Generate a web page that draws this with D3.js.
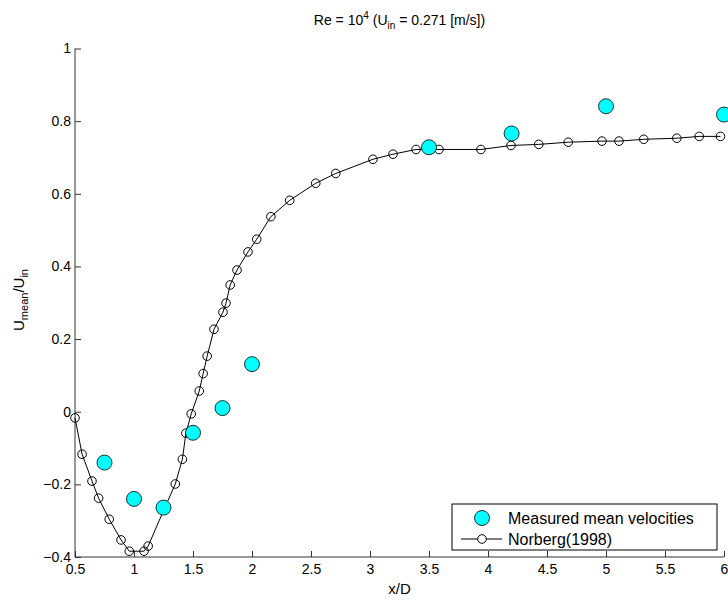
<!DOCTYPE html>
<html>
<head>
<meta charset="utf-8">
<script src="https://cdn.jsdelivr.net/npm/d3@7"></script>
<style>
  body { margin: 0; background: #fff; }
  text { font-family: "Liberation Sans", Arial, sans-serif; fill: #000; }
</style>
</head>
<body>
<svg id="chart" width="728" height="601"></svg>
<script>
// measured mean velocities
var measX = [0.75, 1.0, 1.25, 1.5, 1.75, 2.0, 3.5, 4.2, 5.0, 6.0];
var measY = [-0.14, -0.24, -0.264, -0.058, 0.01, 0.131, 0.728, 0.766, 0.841, 0.818];

// Norberg (1998) reference curve
var norbX = [0.50, 0.56, 0.644, 0.70, 0.79, 0.89, 0.96, 1.085, 1.12, 1.26, 1.35, 1.41, 1.44, 1.485,
             1.553, 1.586, 1.62, 1.678, 1.754, 1.78, 1.815, 1.873, 1.966, 2.04, 2.16, 2.32, 2.54,
             2.71, 3.025, 3.195, 3.39, 3.585, 3.94, 4.195, 4.43, 4.68, 4.966, 5.11, 5.32, 5.60, 5.79, 5.97];
var norbY = [-0.017, -0.117, -0.191, -0.238, -0.296, -0.353, -0.384, -0.384, -0.370, -0.265, -0.199,
             -0.131, -0.059, -0.006, 0.057, 0.105, 0.153, 0.227, 0.274, 0.299, 0.349, 0.390, 0.440,
             0.475, 0.537, 0.582, 0.629, 0.656, 0.695, 0.709, 0.722, 0.722, 0.722, 0.733, 0.736,
             0.742, 0.745, 0.745, 0.750, 0.753, 0.758, 0.758];

var xTicks = [0.5, 1, 1.5, 2, 2.5, 3, 3.5, 4, 4.5, 5, 5.5, 6];
var yTicks = [-0.4, -0.2, 0, 0.2, 0.4, 0.6, 0.8, 1];
var legendLabels = ["Measured mean velocities", "Norberg(1998)"];

var svg = d3.select("#chart"),
    pLeft = 75, pRight = 724, pTop = 48.5, pBottom = 557;

var x = d3.scaleLinear().domain([0.5, 6]).range([pLeft, pRight]);
var y = d3.scaleLinear().domain([-0.4, 1]).range([pBottom, pTop]);

var fmt = function(d) { return d < 0 ? "\u2212" + Math.abs(d) : String(d); };

// axes (ticks pointing inward, no box)
var xAxis = svg.append("g")
    .attr("transform", "translate(0," + pBottom + ")")
    .call(d3.axisTop(x).tickValues(xTicks).tickSize(6).tickFormat(fmt));
xAxis.selectAll("text").attr("y", 7).attr("dy", "0.71em");

var yAxis = svg.append("g")
    .attr("transform", "translate(" + pLeft + ",0)")
    .call(d3.axisRight(y).tickValues(yTicks).tickSize(6).tickFormat(fmt));
yAxis.selectAll("text").attr("x", -4).attr("text-anchor", "end");

svg.selectAll(".domain").attr("stroke", "#333");
xAxis.select(".domain").attr("d", "M" + pLeft + ",0H" + pRight);
yAxis.select(".domain").attr("d", "M0," + pTop + "V" + pBottom);
svg.selectAll(".tick line").attr("stroke", "#333");
svg.selectAll(".tick text").attr("font-size", 14).attr("font-family", "Liberation Sans, Arial, sans-serif");

// Norberg line
var norb = norbX.map(function(d, i) { return [d, norbY[i]]; });
var line = d3.line().x(function(d) { return x(d[0]); }).y(function(d) { return y(d[1]); });

svg.append("path")
    .datum(norb)
    .attr("d", line)
    .attr("fill", "none")
    .attr("stroke", "#000")
    .attr("stroke-width", 1);

svg.append("g").selectAll("circle")
    .data(norb)
    .enter().append("circle")
      .attr("cx", function(d) { return x(d[0]); })
      .attr("cy", function(d) { return y(d[1]); })
      .attr("r", 4.3)
      .attr("fill", "none")
      .attr("stroke", "#000")
      .attr("stroke-width", 1);

// measured points
svg.append("g").selectAll("circle")
    .data(measX)
    .enter().append("circle")
      .attr("cx", function(d) { return x(d); })
      .attr("cy", function(d, i) { return y(measY[i]); })
      .attr("r", 7.5)
      .attr("fill", "#00ffff")
      .attr("stroke", "#000")
      .attr("stroke-width", 0.8);

// title
var title = svg.append("text")
    .attr("x", (pLeft + pRight) / 2)
    .attr("y", 25)
    .attr("text-anchor", "middle")
    .attr("font-size", 14);
title.append("tspan").text("Re = 10");
title.append("tspan").attr("dy", -6).attr("font-size", 10).text("4");
title.append("tspan").attr("dy", 6).text(" (U");
title.append("tspan").attr("dy", 4).attr("font-size", 10).text("in");
title.append("tspan").attr("dy", -4).text(" = 0.271 [m/s])");

// x label
svg.append("text")
    .attr("x", (pLeft + pRight) / 2)
    .attr("y", 594)
    .attr("text-anchor", "middle")
    .attr("font-size", 15)
    .text("x/D");

// y label
var ylab = svg.append("text")
    .attr("transform", "translate(24,300) rotate(-90)")
    .attr("text-anchor", "middle")
    .attr("font-size", 15);
ylab.append("tspan").text("U");
ylab.append("tspan").attr("dy", 4).attr("font-size", 11).text("mean");
ylab.append("tspan").attr("dy", -4).text("/U");
ylab.append("tspan").attr("dy", 4).attr("font-size", 11).text("in");

// legend
var lg = svg.append("g");
lg.append("rect")
    .attr("x", 452).attr("y", 504)
    .attr("width", 265).attr("height", 46)
    .attr("fill", "#fff").attr("stroke", "#000").attr("stroke-width", 1);

lg.append("circle")
    .attr("cx", 482).attr("cy", 518).attr("r", 7.5)
    .attr("fill", "#00ffff").attr("stroke", "#000").attr("stroke-width", 0.8);
lg.append("line")
    .attr("x1", 461).attr("x2", 502).attr("y1", 539).attr("y2", 539)
    .attr("stroke", "#000");
lg.append("circle")
    .attr("cx", 482).attr("cy", 539).attr("r", 4.3)
    .attr("fill", "#fff").attr("stroke", "#000");

lg.selectAll("text.lbl")
    .data(legendLabels)
    .enter().append("text")
      .attr("class", "lbl")
      .attr("x", 508)
      .attr("y", function(d, i) { return 518 + i * 21; })
      .attr("dy", "0.35em")
      .attr("font-size", 16)
      .text(function(d) { return d; });
</script>
</body>
</html>
